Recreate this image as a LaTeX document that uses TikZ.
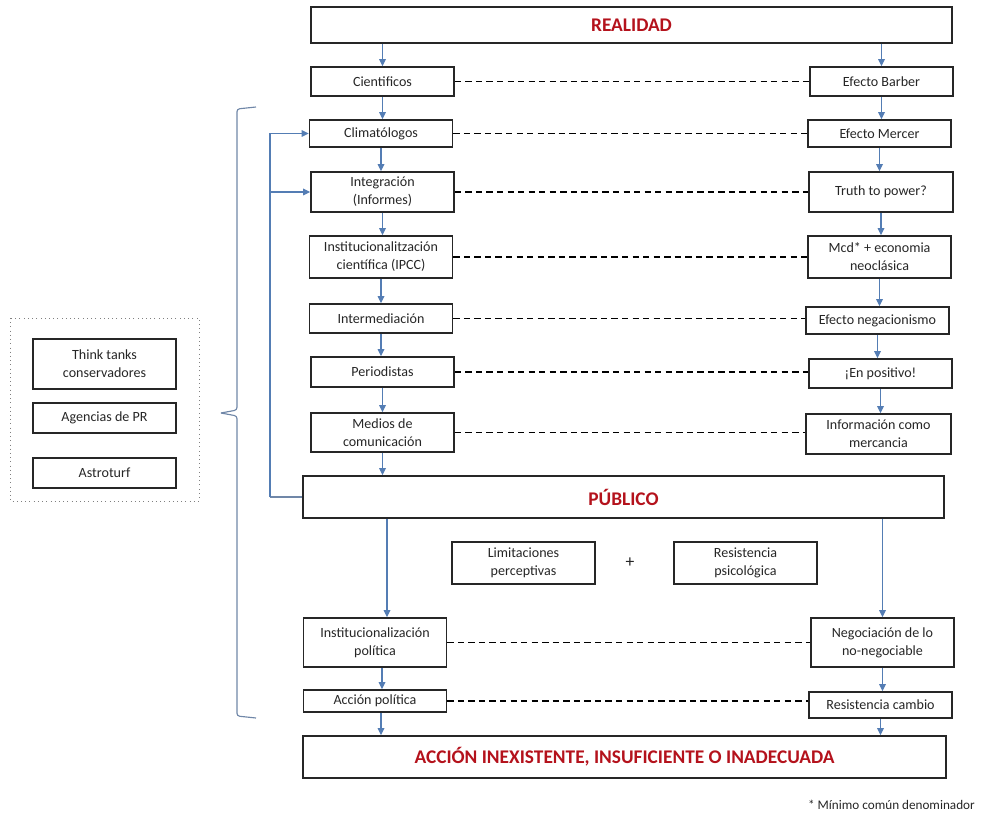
\documentclass[tikz,border=0pt]{standalone}
\usepackage{fontspec}
\setmainfont{Carlito}
\usetikzlibrary{arrows.meta}
\definecolor{flowblue}{RGB}{84,125,180}
\definecolor{wireblue}{RGB}{112,135,168}
\definecolor{titlered}{RGB}{180,18,28}

\begin{document}
\begin{tikzpicture}[x = 0.2mm, y = -0.2mm,
		box/.style = {draw = black!85, line width = 0.9pt, align = center, inner sep = 1pt,
			minimum width = 28.6mm, font = \fontsize{8}{10.2}\selectfont, text = black!85},
		title/.style = {box, font = \fontsize{11}{13}\selectfont\bfseries, text = titlered},
		link/.style = {draw = black, line width = 0.85pt, dash pattern = on 3.6pt off 2.4pt},
		arr/.style = {draw = flowblue, line width = 0.65pt, -{Triangle[length = 4pt, width = 3.8pt]}},
		wire/.style = {draw = wireblue, line width = 0.65pt}]
		\useasboundingbox (0, 0) rectangle (983, 814);
		% Top
		\node[title, minimum width = 128.2mm, minimum height = 7.2mm] (realidad) at (631.5, 25) {REALIDAD};
		% Left column
		\node[box, minimum height = 5.8mm] (cientificos) at (382.5, 81.5) {Cientificos};
		\node[box, minimum height = 5.4mm] (climatologos) at (381, 133.5) {Climatólogos};
		\node[box, minimum height = 8mm] (integracion) at (382.5, 192) {Integración\\(Informes)};
		\node[box, minimum height = 8.4mm] (ipcc) at (381, 257) {Institucionalitzación\\científica (IPCC)};
		\node[box, minimum height = 5.8mm] (intermediacion) at (381, 318.5) {Intermediación};
		\node[box, minimum height = 6mm] (periodistas) at (382.5, 372) {Periodistas};
		\node[box, minimum height = 7.8mm] (medios) at (382.5, 432.5) {Medios de\\comunicación};
		% Right column
		\node[box, minimum height = 5.8mm] (barber) at (881.5, 81.5) {Efecto Barber};
		\node[box, minimum height = 5.4mm] (mercer) at (879.5, 133.5) {Efecto Mercer};
		\node[box, minimum width = 28.8mm, minimum height = 8mm] (truth) at (881, 192) {Truth to power?};
		\node[box, minimum height = 8.4mm] (mcd) at (879.5, 257) {Mcd* + economia\\neoclásica};
		\node[box, minimum height = 5.4mm] (negacionismo) at (877.5, 320.5) {Efecto negacionismo};
		\node[box, minimum height = 5.8mm] (positivo) at (880.5, 373.5) {¡En positivo!};
		\node[box, minimum width = 29mm, minimum height = 8mm] (mercancia) at (878.5, 434) {Información como\\mercancia};
		% Public
		\node[title, minimum width = 128.2mm, minimum height = 8.4mm] (publico) at (623.5, 497) {PÚBLICO};
		\node[box, minimum height = 8.4mm] (limitaciones) at (523.5, 563) {Limitaciones\\perceptivas};
		\node[font = \fontsize{10}{12}\selectfont, text = black!85] (mas) at (630, 563) {+};
		\node[box, minimum height = 8.4mm] (resistencia) at (745.5, 563) {Resistencia\\psicológica};
		\node[box, minimum height = 9.8mm] (instpolitica) at (375, 642.5) {Institucionalización\\política};
		\node[box, minimum height = 4.4mm] (accion) at (375, 701) {Acción política};
		\node[box, minimum height = 9.8mm] (negociacion) at (882.5, 642.5) {Negociación de lo\\no-negociable};
		\node[box, minimum height = 5.2mm] (cambio) at (880.5, 705) {Resistencia cambio};
		\node[title, minimum width = 128.6mm, minimum height = 8.4mm] (inadecuada) at (624.5, 757) {ACCIÓN INEXISTENTE, INSUFICIENTE O INADECUADA};
		% Left group
		\draw[gray, dotted] (10, 318) rectangle (199, 501);
		\node[box, minimum height = 10mm] (thinktanks) at (104.5, 364) {Think tanks\\conservadores};
		\node[box, minimum height = 6mm] (agencias) at (104.5, 418) {Agencias de PR};
		\node[box, minimum height = 6mm] (astroturf) at (104.5, 473) {Astroturf};
		% Note
		\node[anchor = east, font = \fontsize{7.5}{9}\selectfont, text = black!85] (nota) at (981, 805) {* Mínimo común denominador};
		% Arrows
		\draw[arr] (cientificos.north |- realidad.south) -- (cientificos.north);
		\draw[arr] (barber.north |- realidad.south) -- (barber.north);
		\foreach \a/\b in {cientificos/climatologos, climatologos/integracion, integracion/ipcc, ipcc/intermediacion,
			intermediacion/periodistas, periodistas/medios, medios/publico, barber/mercer, mercer/truth, truth/mcd,
			mcd/negacionismo, negacionismo/positivo, positivo/mercancia, negociacion/cambio, cambio/inadecuada}
		\draw[arr] (\a.south) -- (\a.south |- \b.north);
		\coordinate (inpol) at ([xshift = 2.4mm] instpolitica.north);
		\coordinate (inaccion) at ([xshift = 1.4mm] accion.north);
		\coordinate (infinal) at ([xshift = 1.2mm] accion.south);
		\draw[arr] (inpol |- publico.south) -- (inpol);
		\draw[arr] (inaccion |- instpolitica.south) -- (inaccion);
		\draw[arr] (infinal) -- (infinal |- inadecuada.north);
		\draw[arr] (negociacion.north |- publico.south) -- (negociacion.north);
		% Dashed links
		\foreach \a/\b in {cientificos/barber, climatologos/mercer, integracion/truth, ipcc/mcd,
			intermediacion/negacionismo, periodistas/positivo, medios/mercancia, instpolitica/negociacion, accion/cambio}
		\draw[link] (\a.east) -- (\a.east -| \b.west);
		% Feedback
		\coordinate (retorno) at (270, 497);
		\draw[wire] (publico.west) -- (retorno);
		\draw[arr] (retorno) |- (climatologos.west);
		\draw[arr] (retorno |- integracion.west) -- (integracion.west);
		% Bracket
		\draw[wire, rounded corners = 1.5pt] (256, 107) -- (237, 109) -- (237, 410) -- (221, 413);
		\draw[wire, rounded corners = 1.5pt] (221, 413) -- (237, 416) -- (237, 716) -- (256, 718);
	\end{tikzpicture}
\end{document}
